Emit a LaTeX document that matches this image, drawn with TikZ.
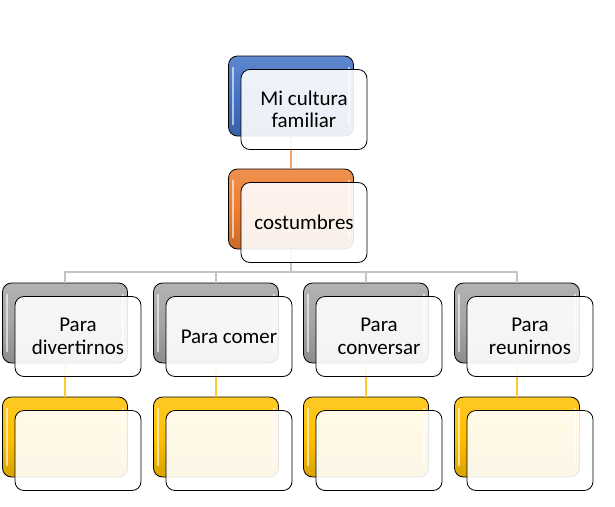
\documentclass[tikz,border=0pt]{standalone}
\usepackage{fontspec}
\setmainfont{Carlito}
\definecolor{cblue}{HTML}{4472C4}
\definecolor{corange}{HTML}{ED7D31}
\definecolor{cgray}{HTML}{A5A5A5}
\definecolor{cgold}{HTML}{FFC000}
\definecolor{lorange}{HTML}{F2A470}
\definecolor{lgray}{HTML}{C4C4C4}
\definecolor{lgold}{HTML}{FFCA28}
\tikzset{
  backbox/.style={draw=black, line width=0.8pt, rounded corners=9pt,
    minimum width=125pt, minimum height=80pt, inner sep=0pt,
    top color=#1!85!white, bottom color=#1!85!black, middle color=#1},
  frontbox/.style={draw=black, line width=0.8pt, rounded corners=9pt,
    minimum width=126pt, minimum height=80pt, inner sep=0pt,
    fill=white, fill opacity=0.9, text opacity=1, align=center,
    font=\fontsize{21}{22.5}\selectfont},
  hl/.style={white, line width=2pt, opacity=0.6, line cap=round},
  conn/.style={line width=1.4pt, draw=#1},
}
\newcommand{\backpair}[3]{%
  \node[backbox=#3] (#1) at (#2) {};
  \draw[hl] ([xshift=5pt,yshift=-12pt]#1.north west) -- ([xshift=5pt,yshift=12pt]#1.south west);
  \draw[hl] ([xshift=-5pt,yshift=-12pt]#1.north east) -- ([xshift=-5pt,yshift=12pt]#1.south east);
}
\begin{document}
\begin{tikzpicture}[x=1pt,y=-1pt]
\useasboundingbox (0,0) rectangle (615,506);
% back boxes
\backpair{t1b}{291,96}{cblue}
\backpair{t2b}{291,209}{corange}
\backpair{c1b}{65,323}{cgray}
\backpair{c2b}{216,323}{cgray}
\backpair{c3b}{366,323}{cgray}
\backpair{c4b}{517,323}{cgray}
\backpair{d1b}{65,437}{cgold}
\backpair{d2b}{216,437}{cgold}
\backpair{d3b}{366,437}{cgold}
\backpair{d4b}{517,437}{cgold}
% connectors
\draw[conn=lorange] (t1b.south) -- (t2b.north);
\coordinate (bus) at (291,272);
\draw[conn=lgray] (t2b.south) -- (bus);
\draw[conn=lgray] (bus) -| (c1b.north);
\draw[conn=lgray] (bus) -| (c2b.north);
\draw[conn=lgray] (bus) -| (c3b.north);
\draw[conn=lgray] (bus) -| (c4b.north);
\draw[conn=lgold] (c1b.south) -- (d1b.north);
\draw[conn=lgold] (c2b.south) -- (d2b.north);
\draw[conn=lgold] (c3b.south) -- (d3b.north);
\draw[conn=lgold] (c4b.south) -- (d4b.north);
% front boxes
\node[frontbox] (t1f) at (304,109.5) {Mi cultura\\familiar};
\node[frontbox] (t2f) at (304,222.5) {costumbres};
\node[frontbox] (c1f) at (78,336.5) {Para\\divertirnos};
\node[frontbox] (c2f) at (229,336.5) {Para comer};
\node[frontbox] (c3f) at (379,336.5) {Para\\conversar};
\node[frontbox] (c4f) at (530,336.5) {Para\\reunirnos};
\node[frontbox] (d1f) at (78,450.5) {};
\node[frontbox] (d2f) at (229,450.5) {};
\node[frontbox] (d3f) at (379,450.5) {};
\node[frontbox] (d4f) at (530,450.5) {};
\end{tikzpicture}
\end{document}
